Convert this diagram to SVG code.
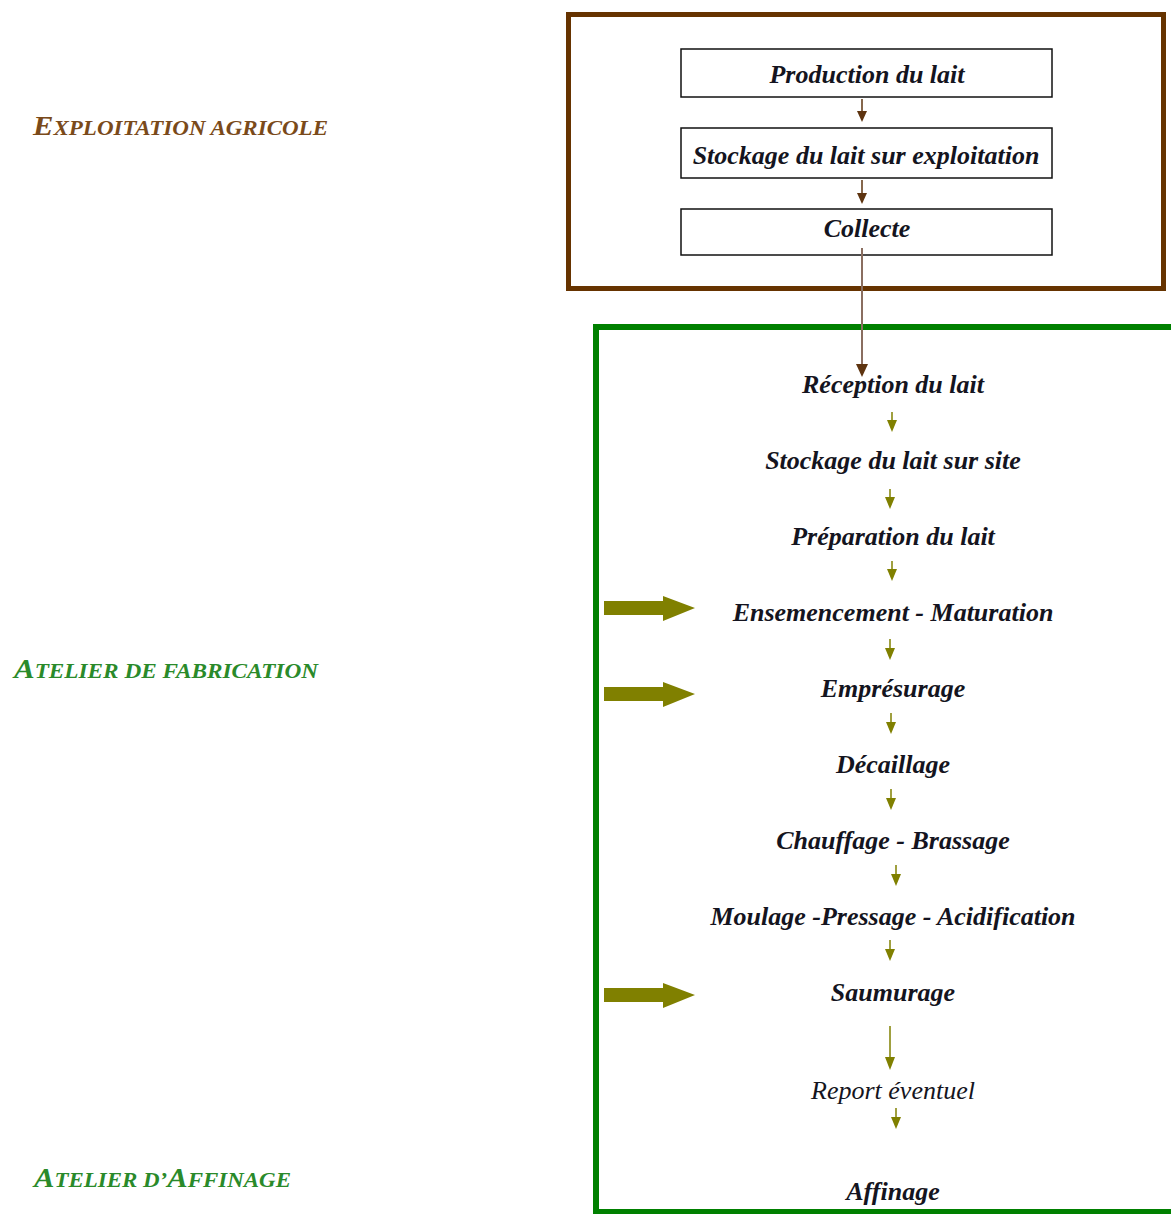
<svg xmlns="http://www.w3.org/2000/svg" width="1171" height="1214" viewBox="0 0 1171 1214">
<defs>
<style>
.t{font-family:"Liberation Serif","Times New Roman",serif;font-style:italic;font-weight:bold;font-size:26px;fill:#141420;text-anchor:middle}
.tn{font-family:"Liberation Serif","Times New Roman",serif;font-style:italic;font-size:26px;fill:#141420;text-anchor:middle}
.lab{font-family:"Liberation Serif","Times New Roman",serif;font-style:italic;font-weight:bold;font-size:21px}
.big{font-size:28px}
.box{fill:#fff;stroke:#111;stroke-width:1.5}
.ol{stroke:#808000;stroke-width:1.5;fill:none}
.br{stroke:#5e3410;stroke-width:1.5;fill:none}
</style>
</defs>
<rect width="1171" height="1214" fill="#fff"/>
<g id="labels">
<text class="lab" x="33" y="135" fill="#7a4a1a" textLength="295" lengthAdjust="spacingAndGlyphs"><tspan class="big">E</tspan>XPLOITATION AGRICOLE</text>
<text class="lab" x="14" y="678" fill="#2a8a2a" textLength="304" lengthAdjust="spacingAndGlyphs"><tspan class="big">A</tspan>TELIER DE FABRICATION</text>
<text class="lab" x="34" y="1187" fill="#2a8a2a" textLength="257" lengthAdjust="spacingAndGlyphs"><tspan class="big">A</tspan>TELIER D’<tspan class="big">A</tspan>FFINAGE</text>
</g>
<g id="frame-exploitation"><rect x="568.5" y="14.5" width="595" height="274" fill="none" stroke="#663300" stroke-width="5"/></g>
<g id="frame-atelier"><rect x="596" y="327" width="620" height="885" fill="none" stroke="#008000" stroke-width="6"/></g>
<g id="n-production"><rect class="box" x="681" y="49" width="371" height="48"/><text class="t" x="867" y="83">Production du lait</text></g>
<g id="n-stockage-exp"><rect class="box" x="681" y="128" width="371" height="50"/><text class="t" x="866" y="164">Stockage du lait sur exploitation</text></g>
<g id="n-collecte"><rect class="box" x="681" y="209" width="371" height="46"/><text class="t" x="867" y="237">Collecte</text></g>
<g id="n-reception"><text class="t" x="893" y="393">Réception du lait</text></g>
<g id="n-stockage-site"><text class="t" x="893" y="469">Stockage du lait sur site</text></g>
<g id="n-preparation"><text class="t" x="893" y="545">Préparation du lait</text></g>
<g id="n-ensemencement"><text class="t" x="893" y="621">Ensemencement - Maturation</text></g>
<g id="n-empresurage"><text class="t" x="893" y="697">Emprésurage</text></g>
<g id="n-decaillage"><text class="t" x="893" y="773">Décaillage</text></g>
<g id="n-chauffage"><text class="t" x="893" y="849">Chauffage - Brassage</text></g>
<g id="n-moulage"><text class="t" x="893" y="925">Moulage -Pressage - Acidification</text></g>
<g id="n-saumurage"><text class="t" x="893" y="1001">Saumurage</text></g>
<g id="n-report"><text class="tn" x="893" y="1099">Report éventuel</text></g>
<g id="n-affinage"><text class="t" x="893" y="1200">Affinage</text></g>
<g id="connectors">
<line class="br" x1="862" y1="99" x2="862" y2="112"/><path d="M857,111 L867,111 L862,122 Z" fill="#5e3410"/>
<line class="br" x1="862" y1="180" x2="862" y2="194"/><path d="M857,193 L867,193 L862,204 Z" fill="#5e3410"/>
<line x1="862" y1="248" x2="862" y2="366" stroke="#8a6e60" stroke-width="2"/><path d="M856,364 L868,364 L862,377 Z" fill="#5e3410"/>
<g fill="#808000">
<line class="ol" x1="892" y1="412" x2="892" y2="421"/><path d="M887,420 L897,420 L892,432 Z"/>
<line class="ol" x1="890" y1="489" x2="890" y2="498"/><path d="M885,497 L895,497 L890,509 Z"/>
<line class="ol" x1="892" y1="561" x2="892" y2="570"/><path d="M887,569 L897,569 L892,581 Z"/>
<line class="ol" x1="890" y1="639" x2="890" y2="649"/><path d="M885,648 L895,648 L890,660 Z"/>
<line class="ol" x1="891" y1="713" x2="891" y2="723"/><path d="M886,722 L896,722 L891,734 Z"/>
<line class="ol" x1="891" y1="789" x2="891" y2="799"/><path d="M886,798 L896,798 L891,810 Z"/>
<line class="ol" x1="896" y1="865" x2="896" y2="875"/><path d="M891,874 L901,874 L896,886 Z"/>
<line class="ol" x1="890" y1="940" x2="890" y2="950"/><path d="M885,949 L895,949 L890,961 Z"/>
<line class="ol" x1="890" y1="1026" x2="890" y2="1058"/><path d="M885,1057 L895,1057 L890,1070 Z"/>
<line class="ol" x1="896" y1="1108" x2="896" y2="1118"/><path d="M891,1117 L901,1117 L896,1129 Z"/>
<path d="M604,601 L663,601 L663,596 L695,608 L663,621 L663,615 L604,615 Z"/>
<path d="M604,687 L663,687 L663,682 L695,694 L663,707 L663,701 L604,701 Z"/>
<path d="M604,988 L663,988 L663,983 L695,995 L663,1008 L663,1002 L604,1002 Z"/>
</g>
</g>
</svg>
